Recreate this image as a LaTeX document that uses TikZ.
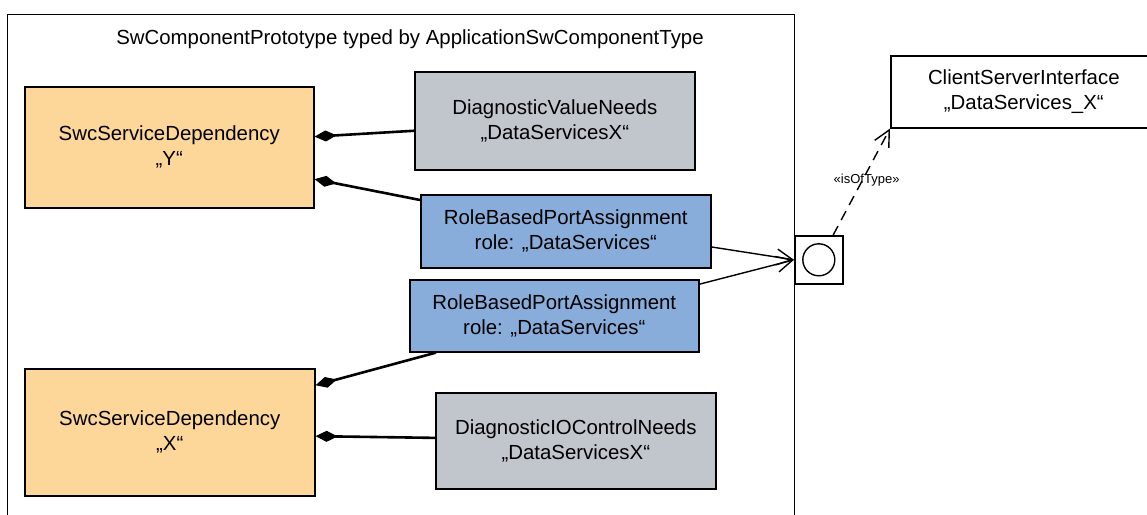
\documentclass[tikz,border=0pt]{standalone}
\usepackage{fontspec}
\setmainfont{Liberation Sans}
\usetikzlibrary{arrows.meta,calc}
\definecolor{sdorange}{RGB}{253,214,153}
\definecolor{needgray}{RGB}{193,197,204}
\definecolor{rolblue}{RGB}{136,173,218}
\begin{document}
\begin{tikzpicture}[x=1pt,y=-1pt,
  box/.style={draw=black, line width=1.6pt, anchor=north west, inner sep=0pt, align=center, font=\fontsize{20.4}{25}\selectfont},
  frame/.style={draw=black, line width=1.3pt, anchor=north west, inner sep=0pt},
  comp/.style={line width=2.6pt, {Diamond[length=22pt,width=11pt,fill=black,line width=1pt]}-},
  assoc/.style={line width=1.4pt, -{Straight Barb[length=16pt,width=16pt,line width=1.4pt]}},
  typeof/.style={line width=1.4pt, dash pattern=on 10pt off 7pt, -{Straight Barb[length=16pt,width=16pt,line width=1.4pt]}},
  lbl/.style={font=\fontsize{13}{15}\selectfont, inner sep=1pt},
  ttl/.style={font=\fontsize{20.4}{25}\selectfont, inner sep=0pt}
]
\useasboundingbox (0,0) rectangle (1147,514);
\clip (0,0) rectangle (1147,514);
\fill[white] (0,0) rectangle (1147,514);

\node[frame, minimum width=787, minimum height=540] (sys) at (7,14) {};
\node[ttl] (title) at (410,39) {SwComponentPrototype typed by ApplicationSwComponentType};

\node[box, fill=sdorange, minimum width=289, minimum height=121] (Y) at (24,86) {SwcServiceDependency\\„Y“};
\node[box, fill=needgray, minimum width=280, minimum height=98] (dvn) at (414,71) {DiagnosticValueNeeds\\„DataServicesX“};
\node[box, fill=rolblue, minimum width=290, minimum height=73] (rb1) at (420,194) {RoleBasedPortAssignment\\role: „DataServices“};
\node[box, fill=rolblue, minimum width=289, minimum height=72] (rb2) at (409,279) {RoleBasedPortAssignment\\role: „DataServices“};
\node[box, fill=sdorange, minimum width=290, minimum height=127] (X) at (24,368) {SwcServiceDependency\\„X“};
\node[box, fill=needgray, minimum width=280, minimum height=96] (dio) at (435,392) {DiagnosticIOControlNeeds\\„DataServicesX“};
\node[box, fill=white, minimum width=266, minimum height=72] (csi) at (890,55) {ClientServerInterface\\„DataServices\_X“};

\node[draw=black, fill=white, line width=1.6pt, minimum size=48, inner sep=0pt, anchor=north west] (port) at (794,235) {};
\node[draw=black, circle, line width=1.4pt, minimum size=32, inner sep=0pt] (portc) at (port.center) {};

\draw[comp] ($(Y.north east)!0.413!(Y.south east)$) -- ($(dvn.north west)!0.6!(dvn.south west)$);
\draw[comp] ($(Y.north east)!0.76!(Y.south east)$) -- ($(rb1.north west)!0.08!(rb1.south west)$);
\draw[comp] ($(X.north east)!0.134!(X.south east)$) -- ($(rb2.south west)!0.093!(rb2.south east)$);
\draw[comp] ($(X.north east)!0.53!(X.south east)$) -- ($(dio.north west)!0.47!(dio.south west)$);

\draw[assoc] ($(rb1.north east)!0.71!(rb1.south east)$) -- (port.west);
\draw[assoc] ($(rb2.north east)!0.07!(rb2.south east)$) -- (port.west);

\draw[typeof] ($(port.north west)!0.79!(port.north east)$) -- (csi.south west)
  node[lbl, pos=0.5, xshift=5pt, yshift=2pt] {«isOfType»};
\end{tikzpicture}
\end{document}
